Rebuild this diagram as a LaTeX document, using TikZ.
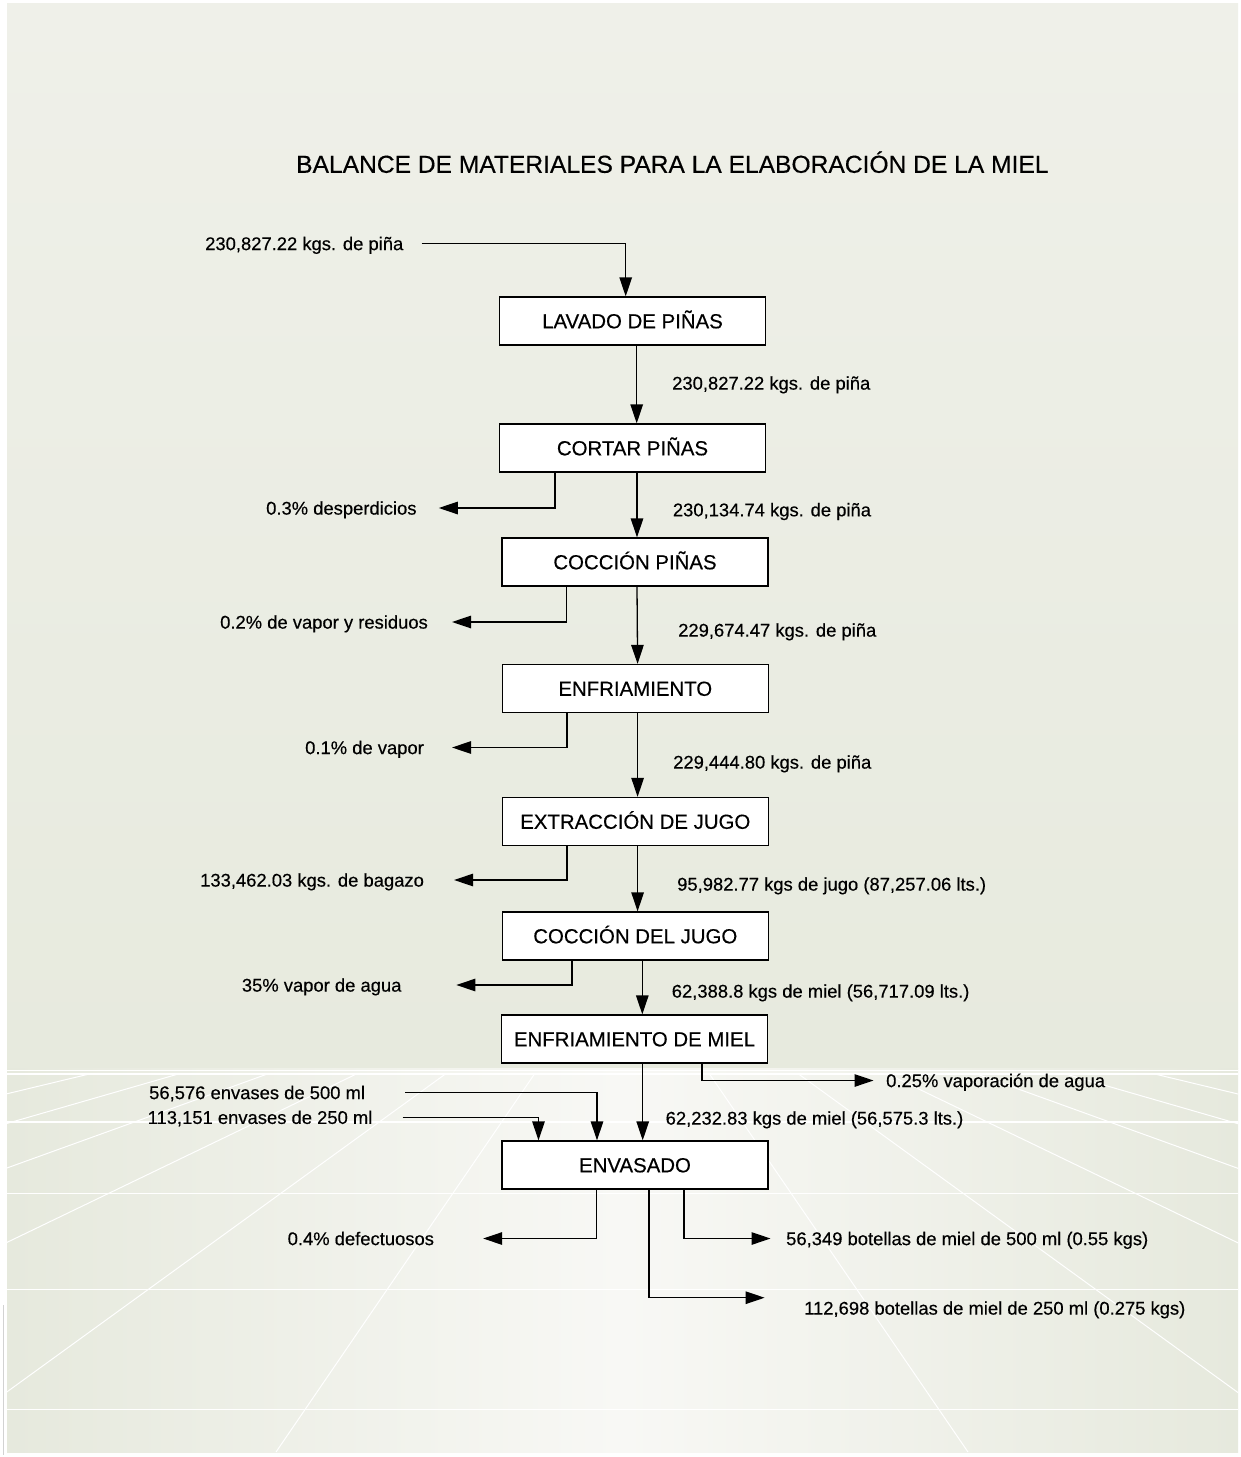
\documentclass[tikz,border=0pt]{standalone}
\usepackage{fontspec}
\setmainfont{Liberation Sans}[FakeBold=0.35]
\usetikzlibrary{arrows.meta}
\definecolor{bgtop}{RGB}{239,240,233}
\definecolor{bgbot}{RGB}{231,234,222}
\definecolor{bgedge}{RGB}{230,233,221}
\definecolor{bgmid}{RGB}{248,248,245}
\begin{document}
\begin{tikzpicture}[x=1pt,y=-1pt,
  procbox/.style={draw=black, line width=1.3pt, fill=white,
    minimum width=266pt, minimum height=48pt, inner sep=0pt,
    text height=14.6pt, text depth=0pt, font=\fontsize{20.4}{24}\selectfont},
  flowlbl/.style={anchor=west, inner sep=0pt, text height=13.2pt,
    text depth=0pt, font=\fontsize{18.4}{22}\selectfont},
  arr/.style={line width=1.3pt, -{Triangle[length=19pt,width=12.5pt]}},
  fanline/.style={white, line width=1pt},
  hline/.style={white, line width=1.6pt}]

% page and background panels
\useasboundingbox (0,0) rectangle (1241,1457);
\fill[white] (0,0) rectangle (1241,1457);
\shade[top color=bgtop, bottom color=bgbot] (7,3) rectangle (1238,1068);
\shade[left color=bgedge, right color=bgedge, middle color=bgmid] (7,1068) rectangle (1238,1452);

% perspective floor grid
\begin{scope}
  \clip (7,1074) rectangle (1238,1452);
  \foreach \bx in {276,-76,-428,-780,-1132,-1484,968,1320,1672,2024,2376,2728}
    \draw[fanline] (622,946) -- (\bx,1452);
\end{scope}
\foreach \hy in {1070.5,1074,1121.7,1193.3,1289.3,1409.3}
  \draw[hline] (7,\hy) -- (1238,\hy);
\draw[gray!35, line width=0.6pt] (3.5,1305) -- (3.5,1455);

% title
\node[anchor=west, inner sep=0pt, text height=17.6pt, text depth=0pt,
  font=\fontsize{24.6}{29}\selectfont] (title) at (296,164)
  {BALANCE DE MATERIALES PARA LA ELABORACIÓN DE LA MIEL};

% process steps
\node[procbox] (lav)  at (632.5,321)   {LAVADO DE PIÑAS};
\node[procbox] (cor)  at (632.5,448)   {CORTAR PIÑAS};
\node[procbox] (cocp) at (635,562)     {COCCIÓN PIÑAS};
\node[procbox] (enf)  at (635.3,688.5) {ENFRIAMIENTO};
\node[procbox] (ext)  at (635.3,821.5) {EXTRACCIÓN DE JUGO};
\node[procbox] (cocj) at (635.3,936)   {COCCIÓN DEL JUGO};
\node[procbox] (enfm) at (634.5,1039)  {ENFRIAMIENTO DE MIEL};
\node[procbox] (env)  at (635,1165)    {ENVASADO};

% flow quantities along the main line
\node[flowlbl] (in1) at (205,243.5)  {230,827.22 kgs. de piña};
\node[flowlbl] (f1)  at (672,383)    {230,827.22 kgs. de piña};
\node[flowlbl] (f2)  at (672.7,509.7) {230,134.74 kgs. de piña};
\node[flowlbl] (f3)  at (678,630)    {229,674.47 kgs. de piña};
\node[flowlbl] (f4)  at (673,762)    {229,444.80 kgs. de piña};
\node[flowlbl] (f5)  at (677,884)    {95,982.77 kgs de jugo (87,257.06 lts.)};
\node[flowlbl] (f6)  at (671.6,991)  {62,388.8 kgs de miel (56,717.09 lts.)};
\node[flowlbl] (f7)  at (665.5,1118) {62,232.83 kgs de miel (56,575.3 lts.)};

% losses and by-products
\node[flowlbl] (w1) at (266,508)     {0.3\% desperdicios};
\node[flowlbl] (w2) at (220,622)     {0.2\% de vapor y residuos};
\node[flowlbl] (w3) at (305,747.5)   {0.1\% de vapor};
\node[flowlbl] (w4) at (200,880)     {133,462.03 kgs. de bagazo};
\node[flowlbl] (w5) at (241.7,985)   {35\% vapor de agua};
\node[flowlbl] (w6) at (886,1080.5)  {0.25\% vaporación de agua};
\node[flowlbl] (w7) at (287.5,1238.5) {0.4\% defectuosos};

% packaging inputs and products
\node[flowlbl] (in2) at (149,1092.5)  {56,576 envases de 500 ml};
\node[flowlbl] (in3) at (147.5,1117.3) {113,151 envases de 250 ml};
\node[flowlbl] (p1)  at (786,1238.5)  {56,349 botellas de miel de 500 ml (0.55 kgs)};
\node[flowlbl] (p2)  at (804,1308)    {112,698 botellas de miel de 250 ml (0.275 kgs)};
\coordinate (t9) at (764.6,1297.7);

% main line
\draw[arr] ([xshift=18pt]in1.east) -| ([xshift=-6.8pt]lav.north);
\draw[arr] ([xshift=4.2pt]lav.south) -- ([xshift=4.2pt]cor.north);
\draw[arr] ([xshift=4.5pt]cor.south) -- ([xshift=2pt]cocp.north);
\draw[arr] ([xshift=2pt]cocp.south) -- ([xshift=2.3pt]enf.north);
\draw[arr] ([xshift=2.3pt]enf.south) -- ([xshift=2.3pt]ext.north);
\draw[arr] ([xshift=2.3pt]ext.south) -- ([xshift=2.3pt]cocj.north);
\draw[arr] ([xshift=7pt]cocj.south) -- ([xshift=7.8pt]enfm.north);
\draw[arr] ([xshift=8.2pt]enfm.south) -- ([xshift=7.7pt]env.north);

% side streams
\draw[arr] ([xshift=-77.5pt]cor.south)  |- ([xshift=22pt]w1.east);
\draw[arr] ([xshift=-68.3pt]cocp.south) |- ([xshift=24pt]w2.east);
\draw[arr] ([xshift=-68.3pt]enf.south)  |- ([xshift=28pt]w3.east);
\draw[arr] ([xshift=-68.3pt]ext.south)  |- ([xshift=30pt]w4.east);
\draw[arr] ([xshift=-63.3pt]cocj.south) |- ([xshift=54.7pt]w5.east);
\draw[arr] ([xshift=67.5pt]enfm.south)  |- ([xshift=-12.5pt]w6.west);

% packaging
\draw[arr] ([xshift=40pt]in2.east) -| ([xshift=-38pt]env.north);
\draw[arr] ([xshift=30pt]in3.east) -| ([xshift=-96.5pt]env.north);
\draw[arr] ([xshift=-38.7pt]env.south) |- ([xshift=49pt]w7.east);
\draw[arr] ([xshift=49pt]env.south) |- ([xshift=-15.5pt]p1.west);
\draw[arr] ([xshift=14pt]env.south) |- (t9);
\end{tikzpicture}
\end{document}
